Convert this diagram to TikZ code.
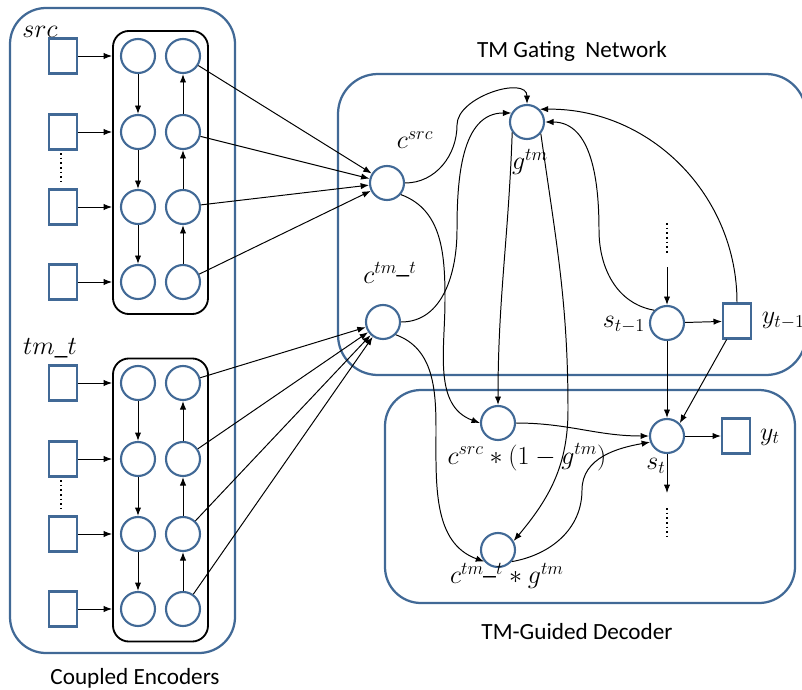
\RequirePackage{fix-cm}
\documentclass[tikz,border=0pt]{standalone}
\usepackage{fontspec}
\setmainfont{Carlito}
\usetikzlibrary{arrows.meta}
\definecolor{cellblue}{RGB}{65,105,150}
\tikzset{
    cell/.style={circle, draw=cellblue, line width=1.5pt, minimum size=0.85cm, inner sep=0pt},
    token/.style={rectangle, draw=cellblue, line width=1.5pt, minimum width=0.7cm, minimum height=0.875cm, inner sep=0pt},
    rnnbox/.style={rectangle, rounded corners=0.4cm, draw=black, line width=1.3pt, minimum width=2.375cm, minimum height=7.075cm},
    group/.style={draw=cellblue, line width=1.6pt},
    lbl/.style={font=\fontsize{18.5}{22}\selectfont},
    titletext/.style={font=\fontsize{16.5}{20}\selectfont},
    link/.style={-{Latex[length=6pt,width=4.5pt]}, line width=0.7pt},
    dots/.style={dotted, line width=1.3pt}
}
\begin{document}
\begin{tikzpicture}[x=0.025cm, y=-0.025cm]
                    \useasboundingbox (0,0) rectangle (802,690);

                    %%boxes
                    \draw[group, rounded corners=0.9cm] (10,8) rectangle (235,653);
                    \draw[group, rounded corners=1cm] (338,74) rectangle (806,375);
                    \draw[group, rounded corners=0.9cm] (385,390) rectangle (795,603);

                    %%titles
                    \node[titletext] (enctitle) at (135,678){Coupled Encoders};
                    \node[titletext] (gatetitle) at (572,51){TM Gating\ \ Network};
                    \node[titletext] (dectitle) at (577,632){TM-Guided Decoder};

                    %%source encoder
                    \node[rnnbox] (senc) at (160.5,172.5){};
                    \node[lbl] (srclbl) at (40,32){$src$};
                        \node[token] (sw1) at (63,56){};
                        \node[token] (sw2) at (63,132){};
                        \node[token] (sw3) at (63,207){};
                        \node[token] (sw4) at (63,282){};
                        \node[cell] (sf1) at (138,56){};
                        \node[cell] (sf2) at (138,132){};
                        \node[cell] (sf3) at (138,207){};
                        \node[cell] (sf4) at (138,282){};
                        \node[cell] (sb1) at (183,56){};
                        \node[cell] (sb2) at (183,132){};
                        \node[cell] (sb3) at (183,207){};
                        \node[cell] (sb4) at (183,282){};
                    \draw[dots] (61,153) to (61,181);
                    \draw[link] (sw1) to (sw1 -| senc.west);
                    \draw[link] (sw2) to (sw2 -| senc.west);
                    \draw[link] (sw3) to (sw3 -| senc.west);
                    \draw[link] (sw4) to (sw4 -| senc.west);
                    \draw[link] (sf1) to (sf2);
                    \draw[link] (sf2) to (sf3);
                    \draw[link] (sf3) to (sf4);
                    \draw[link] (sb4) to (sb3);
                    \draw[link] (sb3) to (sb2);
                    \draw[link] (sb2) to (sb1);

                    %%tm encoder
                    \node[rnnbox] (tenc) at (160.5,500){};
                    \node[lbl] (tmlbl) at (50,348){$tm\_t$};
                        \node[token] (tw1) at (63,383){};
                        \node[token] (tw2) at (63,459){};
                        \node[token] (tw3) at (63,534){};
                        \node[token] (tw4) at (63,609){};
                        \node[cell] (tf1) at (138,383){};
                        \node[cell] (tf2) at (138,459){};
                        \node[cell] (tf3) at (138,534){};
                        \node[cell] (tf4) at (138,609){};
                        \node[cell] (tb1) at (183,383){};
                        \node[cell] (tb2) at (183,459){};
                        \node[cell] (tb3) at (183,534){};
                        \node[cell] (tb4) at (183,609){};
                    \draw[dots] (61,480) to (61,508);
                    \draw[link] (tw1) to (tw1 -| tenc.west);
                    \draw[link] (tw2) to (tw2 -| tenc.west);
                    \draw[link] (tw3) to (tw3 -| tenc.west);
                    \draw[link] (tw4) to (tw4 -| tenc.west);
                    \draw[link] (tf1) to (tf2);
                    \draw[link] (tf2) to (tf3);
                    \draw[link] (tf3) to (tf4);
                    \draw[link] (tb4) to (tb3);
                    \draw[link] (tb3) to (tb2);
                    \draw[link] (tb2) to (tb1);

                    %%gating network
                    \node[cell] (csrc) at (387,183){};
                        \node[lbl] (csrclbl) at (415,140){$c^{src}$};
                    \node[cell] (ctm) at (383,322){};
                        \node[lbl] (ctmlbl) at (390,273){$c^{tm\_t}$};
                    \node[cell] (gtm) at (527,122){};
                        \node[lbl] (gtmlbl) at (530,162){$g^{tm}$};
                    \node[cell] (sprev) at (667,323){};
                        \node[lbl] (sprevlbl) at (624,325){$s_{t-1}$};
                    \node[token] (yprev) at (737,321){};
                        \node[lbl, anchor=west] (yprevlbl) at (757,321){$y_{t-1}$};
                    \coordinate (sin) at (667,267);
                    \draw[dots] (667,223) to (667,253);

                    %%decoder
                    \node[cell] (csrcg) at (498,423){};
                        \node[lbl] (csrcglbl) at (527,457){$c^{src}*(1-g^{tm})$};
                    \node[cell] (ctmg) at (498,550){};
                        \node[lbl] (ctmglbl) at (507,576){$c^{tm\_t}*g^{tm}$};
                    \node[cell] (st) at (667,436){};
                        \node[lbl] (stlbl) at (656,466){$s_t$};
                    \node[token] (yt) at (736,436){};
                        \node[lbl] (ytlbl) at (770,437){$y_t$};
                    \coordinate (sout) at (667,493);
                    \draw[dots] (667,508) to (667,537);

                    %%encoders to contexts
                    \draw[link] (sb1) to (csrc);
                    \draw[link] (sb2) to (csrc);
                    \draw[link] (sb3) to (csrc);
                    \draw[link] (sb4) to (csrc);
                    \draw[link] (tb1) to (ctm);
                    \draw[link] (tb2) to (ctm);
                    \draw[link] (tb3) to (ctm);
                    \draw[link] (tb4) to (ctm);

                    %%into the gate
                    \draw[link] (csrc.east) to[out=0,in=-90] (457,125) to[out=90,in=90] (gtm.north);
                    \draw[link] (ctm.east) to[out=0,in=-90] (457,230) to[out=90,in=180] (gtm.150);
                    \draw[link] (sprev.135) to[out=170,in=-90] (599,230) to[out=90,in=0] (gtm.east);
                    \draw[link] (yprev.north) .. controls (737,195) and (650,108) .. (gtm.45);
                    \draw[link] (sin) to (sprev);
                    \draw[link] (sprev) to (yprev);

                    %%gate to decoder
                    \draw[link] (gtm.215) to[out=-92,in=90] (csrcg.north);
                    \draw[link] (gtm.-40) to[out=-82,in=90] (568,410) to[out=-90,in=50] (ctmg.30);
                    \draw[link] (csrc.-40) to[out=-20,in=90] (445,300) to[out=-90,in=160] (csrcg.west);
                    \draw[link] (ctm.-45) to[out=-20,in=90] (436,430) to[out=-90,in=160] (ctmg.220);
                    \draw[link] (csrcg.east) to[out=0,in=180] (st.west);
                    \draw[link] (ctmg.-40) to[out=10,in=-90] (582,490) to[out=90,in=190] (st.200);
                    \draw[link] (sprev) to (st);
                    \draw[link] (yprev) to (st.45);
                    \draw[link] (st) to (yt);
                    \draw[link] (st) to (sout);

                \end{tikzpicture}
\end{document}
